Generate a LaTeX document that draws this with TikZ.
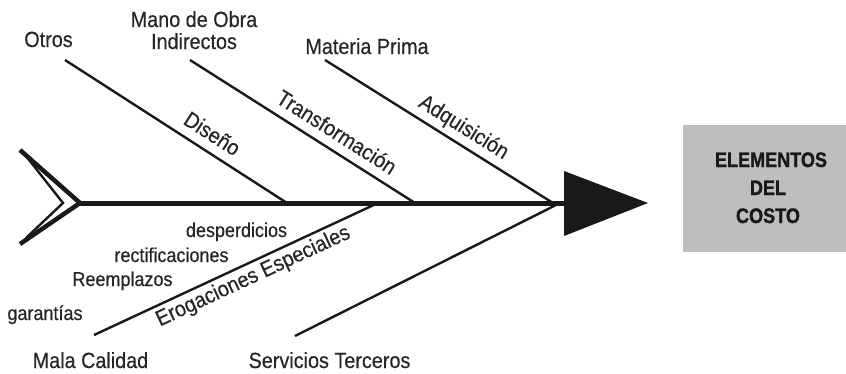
\documentclass[tikz,border=0pt]{standalone}
\usepackage{fontspec}
\setmainfont{Liberation Sans}[FakeStretch=0.9, FakeBold=0.4]
\newfontfamily\boxfont{Liberation Sans}[FakeStretch=0.86, UprightFont=* Bold, FakeBold=1.2]
\begin{document}
\begin{tikzpicture}[x=1pt,y=-1pt,
  bone/.style={line width=2.4pt, black!90},
  lbl/.style={font=\fontsize{22}{24}\selectfont, text=black!85, inner sep=0pt, anchor=base},
  sml/.style={font=\fontsize{20}{22}\selectfont, text=black!85, inner sep=0pt, anchor=base},
  slab/.style={font=\fontsize{22}{24}\selectfont, text=black!85, inner sep=0pt, text depth=0pt, sloped},
  boxtxt/.style={font=\boxfont\fontsize{21}{28}\selectfont, text=black!90, inner sep=0pt, anchor=base}]
\useasboundingbox (0,0) rectangle (846,373);
% result box
\node[fill={rgb,255:red,188;green,190;blue,192}, minimum width=163pt, minimum height=127pt, inner sep=0pt, anchor=north west] (box) at (683,125) {};
\node[boxtxt] (t1) at (771,167) {ELEMENTOS};
\node[boxtxt] (t2) at (768,195) {DEL};
\node[boxtxt] (t3) at (768,223) {COSTO};
% spine
\coordinate (tail) at (80,203);
\coordinate (neck) at (566,203);
\draw[line width=5pt, black!90] (tail) -- (neck);
\coordinate (hA) at (564,171);
\coordinate (hB) at (648,203);
\coordinate (hC) at (564,236);
\fill[black!90] (hA) -- (hB) -- (hC) -- cycle;
% tail
\coordinate (ta) at (20,150);
\coordinate (tb) at (20,244);
\coordinate (tia) at (26,156);
\coordinate (tib) at (26,238);
\coordinate (tiv) at (63,203);
\draw[line width=4.5pt, black!90, line join=miter] (ta) -- (tail) -- (tb);
\draw[line width=2.4pt, black!90, line join=miter] (tia) -- (tiv) -- (tib);
% upper bones
\coordinate (o1) at (65,60);   \coordinate (o2) at (287,203);
\coordinate (m1) at (190,60);  \coordinate (m2) at (415,203);
\coordinate (p1) at (325,60);  \coordinate (p2) at (553,203);
\draw[bone] (o1) -- node[slab, pos=0.62, above=9pt] (dis) {Diseño} (o2);
\draw[bone] (m1) -- node[slab, pos=0.61, above=9pt] (tra) {Transformación} (m2);
\draw[bone] (p1) -- node[slab, pos=0.57, above=9pt] (adq) {Adquisición} (p2);
% lower bones
\coordinate (c1) at (94,335);  \coordinate (c2) at (378,203);
\coordinate (s1) at (295,336); \coordinate (s2) at (560,203);
\draw[bone] (c1) -- node[slab, pos=0.54, below=3pt, text depth=] (ero) {Erogaciones Especiales} (c2);
\draw[bone] (s1) -- (s2);
% labels
\node[lbl] (otros) at (48.5,47) {Otros};
\node[lbl] (mano) at (194,27) {Mano de Obra};
\node[lbl] (ind) at (194,49) {Indirectos};
\node[lbl] (mat) at (367,54) {Materia Prima};
\node[lbl] (mala) at (90.5,368) {Mala Calidad};
\node[lbl] (serv) at (329.5,368) {Servicios Terceros};
\node[sml] (desp) at (236.5,237) {desperdicios};
\node[sml] (rect) at (171.5,262) {rectificaciones};
\node[sml] (reem) at (122.5,286) {Reemplazos};
\node[sml] (gar) at (45,320) {garantías};
\end{tikzpicture}
\end{document}
